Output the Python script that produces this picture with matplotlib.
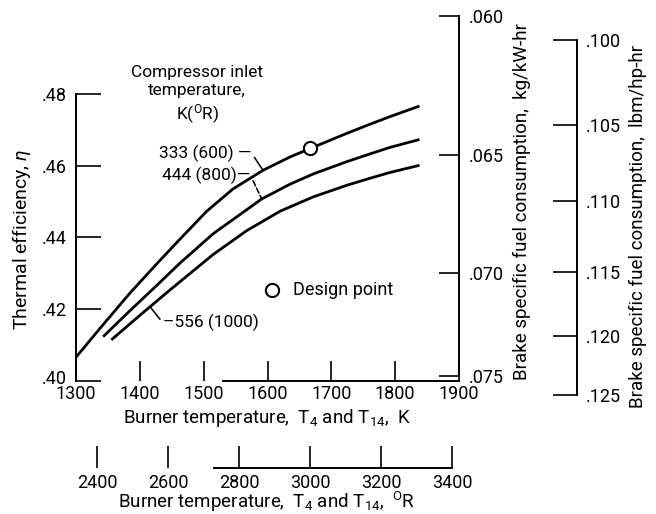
import numpy as np
import matplotlib
matplotlib.use("Agg")
import matplotlib.pyplot as plt
from matplotlib.transforms import ScaledTranslation

FONT = ['Roboto', 'DejaVu Sans']
plt.rcParams['font.family'] = FONT
plt.rcParams['font.size'] = 13
plt.rcParams['mathtext.fontset'] = 'custom'
plt.rcParams['mathtext.rm'] = 'Roboto'
plt.rcParams['mathtext.it'] = 'Roboto:italic'
plt.rcParams['mathtext.bf'] = 'Roboto:bold'

# burner temperature (K) and thermal efficiency for each compressor inlet temperature
k_333 = [1300, 1342, 1384, 1425, 1463, 1505, 1546, 1593, 1635, 1667, 1724, 1761, 1792, 1836]
eta_333 = [.4065, .4155, .4243, .4323, .4395, .4473, .4535, .4587, .4624, .4648, .4690,
           .4716, .4737, .4765]
k_444 = [1344, 1384, 1425, 1463, 1515, 1591, 1635, 1672, 1724, 1761, 1792, 1836]
eta_444 = [.4125, .4194, .4263, .4328, .4410, .4507, .4548, .4577, .4611, .4633, .4651, .4672]
k_556 = [1357, 1404, 1446, 1463, 1515, 1567, 1620, 1672, 1724, 1761, 1792, 1836]
eta_556 = [.4116, .4188, .4251, .4276, .4352, .4418, .4473, .4513, .4545, .4565, .4581, .4600]
design_k = 1666
design_eta = .4648

eta_ticks = [.40, .42, .44, .46, .48]
k_ticks = [1300, 1400, 1500, 1600, 1700, 1800, 1900]
r_ticks = [2400, 2600, 2800, 3000, 3200, 3400]
kg_ticks = [.060, .065, .070, .075]
lbm_ticks = [.100, .105, .110, .115, .120, .125]

KG_C = 0.0301   # bsfc(kg/kW-hr) * eta
LBM_C = 0.0495  # bsfc(lbm/hp-hr) * eta

W, H = 656, 514
fig = plt.figure(figsize=(W / 100, H / 100), dpi=100)

# pixel layout of the main axes
x0, x1 = 76, 459
ytop, ybot = 14, 380.5
px_per_eta = 3581.0
eta_top = .40 + (ybot - ytop) / px_per_eta

ax = fig.add_axes([x0 / W, 1 - ybot / H, (x1 - x0) / W, (ybot - ytop) / H])
ax.set_xlim(1300, 1900)
ax.set_ylim(.40, eta_top)
ax.patch.set_visible(False)

lw = 2.0
ax.plot(k_333, eta_333, color='black', lw=lw)
ax.plot(k_444, eta_444, color='black', lw=lw)
ax.plot(k_556, eta_556, color='black', lw=lw)
ax.plot([design_k], [design_eta], 'o', ms=9.5, mfc='white', mec='black', mew=1.5, zorder=5)

for s in ['top', 'right']:
    ax.spines[s].set_visible(False)
ax.spines['left'].set_bounds(.40, .48)
ax.spines['bottom'].set_bounds(1530, 1900)
for s in ax.spines.values():
    s.set_linewidth(1.4)

ax.set_yticks(eta_ticks, labels=['.%02d' % round(v * 100) for v in eta_ticks])
ax.set_xticks(k_ticks, labels=[str(v) for v in k_ticks])
ax.tick_params(axis='y', direction='in', length=18, width=1.2, pad=6.5, labelsize=13)
ax.tick_params(axis='x', direction='in', length=14.5, width=1.2, pad=3.5, labelsize=13)
# lift the ".40" label a little so it clears "1300"
lab40 = ax.yaxis.get_major_ticks()[0].label1
lab40.set_transform(lab40.get_transform() + ScaledTranslation(0, 4 / 100, fig.dpi_scale_trans))

# kg/kW-hr scale
inv_kg = lambda v: KG_C / np.clip(v, 1e-6, None)
sec = ax.secondary_yaxis('right', functions=(inv_kg, inv_kg))
sec.set_yticks(kg_ticks, labels=['.%03d' % round(v * 1000) for v in kg_ticks])
sec.tick_params(direction='in', length=14.5, width=1.2, pad=7, labelsize=13)
sec.spines['right'].set_bounds(.060, .075)
sec.spines['right'].set_linewidth(1.4)

# lbm/hp-hr scale, on its own taller axes
y3bot = 400
ax3 = fig.add_axes([x0 / W, 1 - y3bot / H, (x1 - x0) / W, (y3bot - ytop) / H])
ax3.set_xlim(1300, 1900)
ax3.set_ylim(.40 - (y3bot - ybot) / px_per_eta, eta_top)
ax3.patch.set_visible(False)
for s in ax3.spines.values():
    s.set_visible(False)
ax3.set_xticks([])
ax3.set_yticks([])
inv_lbm = lambda v: LBM_C / np.clip(v, 1e-6, None)
sec3 = ax3.secondary_yaxis((577 - x0) / (x1 - x0), functions=(inv_lbm, inv_lbm))
sec3.set_yticks(lbm_ticks, labels=['.%03d' % round(v * 1000) for v in lbm_ticks])
sec3.tick_params(direction='in', length=17, width=1.2, pad=6, labelsize=13)
sec3.spines['right'].set_bounds(.100, .125)
sec3.spines['right'].set_linewidth(1.4)

# degrees Rankine scale
secx = ax.secondary_xaxis(-(468 - ybot) / (ybot - ytop),
                          functions=(lambda k: k * 1.8, lambda r: r / 1.8))
secx.set_xticks(r_ticks, labels=[str(v) for v in r_ticks])
secx.tick_params(direction='in', length=16, width=1.2, pad=4, labelsize=13)
secx.spines['bottom'].set_bounds(2729, 3400)
secx.spines['bottom'].set_linewidth(1.4)

# axis titles
fig.text(22 / W, 1 - 240 / H, r'Thermal efficiency, $\eta$', rotation=90,
         ha='center', va='center', fontsize=14)
fig.text(522 / W, 1 - 202 / H, 'Brake specific fuel consumption,  kg/kW-hr',
         rotation=90, ha='center', va='center', fontsize=13.5)
fig.text(638 / W, 1 - 226 / H, 'Brake specific fuel consumption,  lbm/hp-hr',
         rotation=90, ha='center', va='center', fontsize=13.5)
fig.text(267 / W, 1 - 423 / H, r'Burner temperature,  T$_4$ and T$_{14}$,  K',
         ha='center', va='baseline', fontsize=13.5)
fig.text(267 / W, 1 - 508 / H, r'Burner temperature,  T$_4$ and T$_{14}$,  $^{\rm O}$R',
         ha='center', va='baseline', fontsize=13.5)

# annotations
ax.text(1490, .4880, 'Compressor inlet\ntemperature,\nK($^{\\rm O}$R)', ha='center',
        va='top', fontsize=12.5, linespacing=1.25)
ax.annotate('333 (600) \u2014', xy=(1593, .4587), xytext=(1575, .4635),
            ha='right', va='center', fontsize=12.5,
            arrowprops=dict(arrowstyle='-', lw=1.1, relpos=(1, 0.5), shrinkA=0, shrinkB=0))
ax.annotate('444 (800)\u2014', xy=(1591, .4507), xytext=(1573, .4574),
            ha='right', va='center', fontsize=12.5,
            arrowprops=dict(arrowstyle='-', lw=1.1, ls='--', relpos=(1, 0.5),
                            shrinkA=0, shrinkB=0))
ax.annotate('\u2013556 (1000)', xy=(1416, .4206), xytext=(1436, .4161),
            ha='left', va='center', fontsize=12.5,
            arrowprops=dict(arrowstyle='-', lw=1.1, relpos=(0, 0.5), shrinkA=0, shrinkB=0))
ax.plot([1607], [.4253], 'o', ms=9.5, mfc='white', mec='black', mew=1.5)
ax.text(1640, .4253, 'Design point', ha='left', va='center', fontsize=13)

fig.savefig('out.png', dpi=100)
